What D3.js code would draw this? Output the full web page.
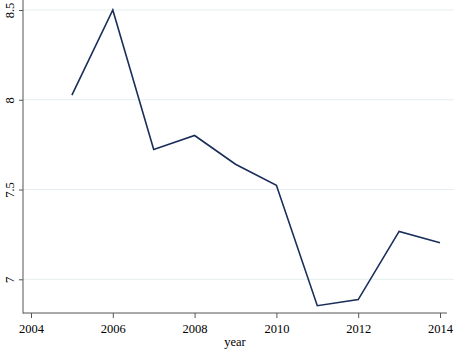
<!DOCTYPE html>
<html>
<head>
<meta charset="utf-8">
<script src="https://cdn.jsdelivr.net/npm/d3@7"></script>
<style>
  body { margin: 0; background: #fff; }
  svg { display: block; }
  .tick text { font-family: "Liberation Serif", "Times New Roman", serif; font-size: 12.5px; fill: #000; }
</style>
</head>
<body>
<div id="chart"></div>
<script>
  var years = [2005, 2006, 2007, 2008, 2009, 2010, 2011, 2012, 2013, 2014];
  var values = [8.026, 8.5, 7.723, 7.801, 7.641, 7.524, 6.853, 6.887, 7.267, 7.204];
  var xTicks = [2004, 2006, 2008, 2010, 2012, 2014];
  var yTicks = [7, 7.5, 8, 8.5];
  var yLabels = ['7', '7.5', '8', '8.5'];

  var width = 454;
  var height = 351;
  var left = 23;
  var bottom = 313;

  var svg = d3.select('#chart').append('svg')
    .attr('width', width)
    .attr('height', height);

  var x = d3.scaleLinear().domain([2004, 2014]).range([31, 440]);
  var y = d3.scaleLinear().domain([7, 8.5]).range([279.3, 10]);

  // gridlines
  svg.selectAll('line.grid')
    .data(yTicks)
    .enter()
    .append('line')
    .attr('class', 'grid')
    .attr('x1', left)
    .attr('x2', width)
    .attr('y1', function(d) { return y(d); })
    .attr('y2', function(d) { return y(d); })
    .style('stroke', '#e4eef0')
    .style('stroke-width', 1);

  var yAxis = svg.append('g')
    .attr('transform', 'translate(' + left + ',0)')
    .call(d3.axisLeft(y).tickValues(yTicks)
      .tickFormat(function(d, i) { return yLabels[i]; })
      .tickSize(4).tickPadding(3));
  yAxis.select('.domain').remove();
  yAxis.selectAll('.tick line').style('stroke', '#555');
  yAxis.selectAll('.tick text')
    .attr('text-anchor', 'middle')
    .attr('transform', 'translate(-13,0) rotate(-90)')
    .attr('x', 0)
    .attr('y', 0)
    .attr('dy', '0.32em');

  var xAxis = svg.append('g')
    .attr('transform', 'translate(0,' + bottom + ')')
    .call(d3.axisBottom(x).tickValues(xTicks)
      .tickFormat(d3.format('d'))
      .tickSize(5).tickPadding(6));
  xAxis.select('.domain').remove();
  xAxis.selectAll('.tick line').style('stroke', '#555');

  // axis lines
  svg.append('line')
    .attr('x1', left).attr('x2', left)
    .attr('y1', 0).attr('y2', bottom + 0.5)
    .style('stroke', '#555').style('stroke-width', 1);
  svg.append('line')
    .attr('x1', left).attr('x2', 447)
    .attr('y1', bottom).attr('y2', bottom)
    .style('stroke', '#555').style('stroke-width', 1);

  var line = d3.line()
    .x(function(d, i) { return x(years[i]); })
    .y(function(d) { return y(d); });

  svg.append('path')
    .datum(values)
    .attr('d', line)
    .style('fill', 'none')
    .style('stroke', '#1a2e5a')
    .style('stroke-width', 1.6);

  svg.append('text')
    .attr('x', 235)
    .attr('y', 346)
    .attr('text-anchor', 'middle')
    .style('font-family', '"Liberation Serif", "Times New Roman", serif')
    .style('font-size', '12.5px')
    .text('year');
</script>
</body>
</html>
